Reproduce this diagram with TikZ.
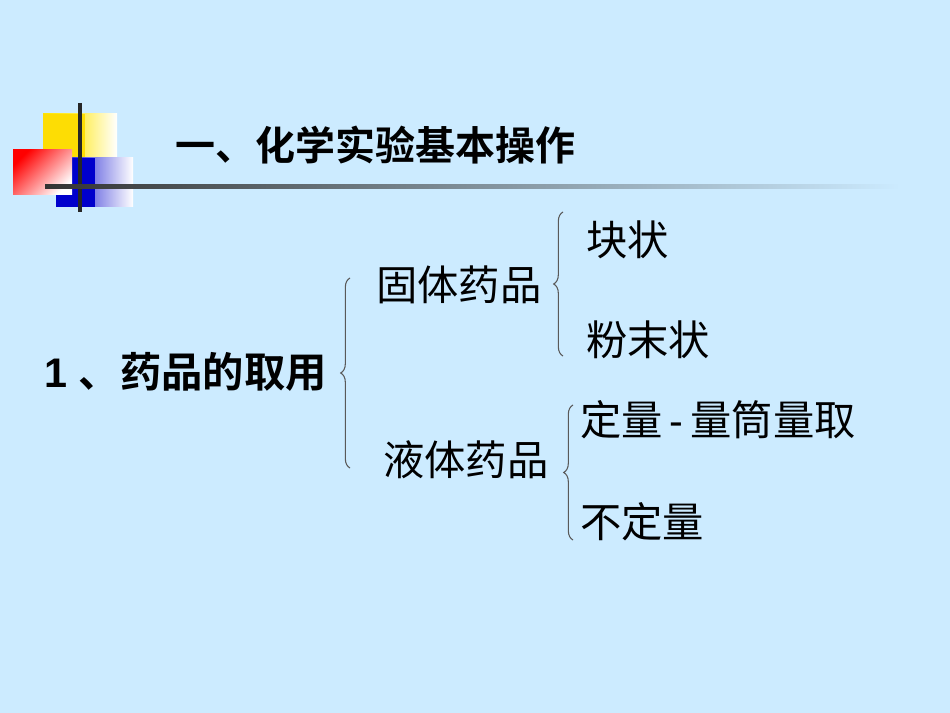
\documentclass[tikz,border=0pt]{standalone}
\usepackage{fontspec}
\setmainfont{Liberation Sans}
\newfontfamily\cjk{Noto Sans CJK SC}
\newfontfamily\cjkb{Noto Sans CJK SC Bold}
\usetikzlibrary{decorations.pathreplacing}
\definecolor{bg}{HTML}{CCEBFF}
\tikzset{txt/.style={anchor=west,inner sep=0pt,font=\cjk\fontsize{31}{33}\selectfont},
 brace/.style={draw=gray!70!black,line width=0.8pt,decorate,decoration={brace,amplitude=7pt}}}
\begin{document}
\begin{tikzpicture}[x=0.75pt,y=-0.75pt]
\fill[bg] (0,0) rectangle (950,713);
\useasboundingbox (0,0) rectangle (950,713);
\shade[left color=yellow!80!orange, right color=white, middle color=yellow!80!orange!70!white] (43,114) rectangle (117,182);
\fill[yellow!80!orange] (43,114) rectangle (85,182);
\shade[left color=blue!80!black, right color=white] (56,158) rectangle (133,207);
\fill[blue!80!black] (56,158) rectangle (95,207);
\shade[top color=red, bottom color=white, shading angle=45] (13,150) rectangle (72,195);
\draw[line width=2.5pt, black!85] (80,103) -- (80,212);
\shade[left color=black!80, right color=bg] (45,185) rectangle (900,189);
\node[txt,font=\cjkb\fontsize{30}{32}\selectfont] (title) at (175,145) {一、化学实验基本操作};
\node[txt,font=\cjkb\fontsize{31}{33}\selectfont] (main) at (44,372) {\fontspec{Liberation Sans Bold}1 \cjkb、药品的取用};
\node[txt] (solid) at (376,285) {固体药品};
\node[txt] (liquid) at (383,460) {液体药品};
\node[txt] (a1) at (586,240) {块状};
\node[txt] (a2) at (586,340) {粉末状};
\node[txt] (b1) at (580,420) {定量\,{\rmfamily -}\,量筒量取};
\node[txt] (b2) at (580,522) {不定量};
\draw[brace] (350,468) -- (350,278);
\draw[brace] (563,356) -- (563,212);
\draw[brace] (573,540) -- (573,405);
\end{tikzpicture}
\end{document}
